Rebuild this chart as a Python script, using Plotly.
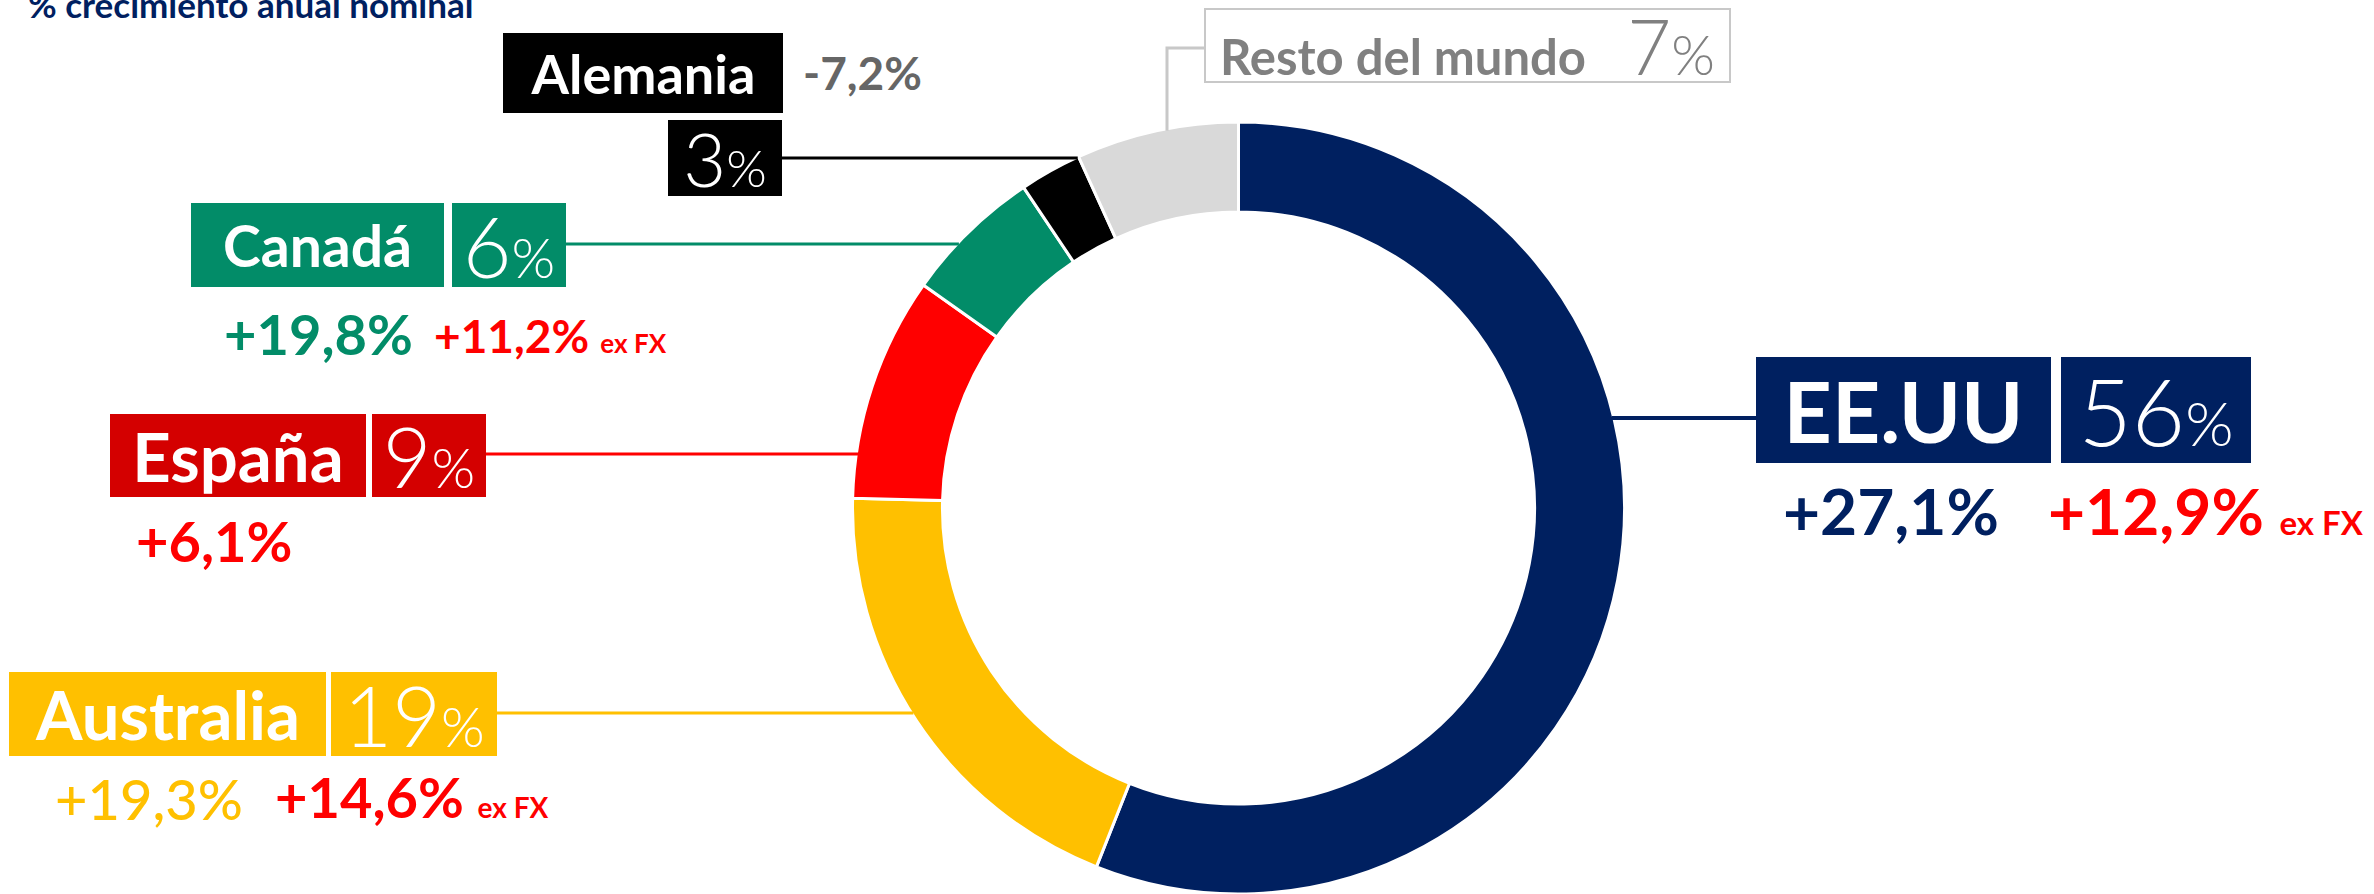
import math
import plotly.graph_objects as go

# ---------------- data ----------------
countries = ["EE.UU", "Australia", "España", "Canadá", "Alemania", "Resto del mundo"]
shares = [56.0, 19.4, 9.4, 5.8, 2.6, 6.8]          # slice sizes read from the ring
share_labels = [56, 19, 9, 6, 3, 7]                 # printed shares (%)
growth = ["+27,1%", "+19,3%", "+6,1%", "+19,8%", "-7,2%", ""]
growth_exfx = ["+12,9%", "+14,6%", "", "+11,2%", "", ""]
title_text = "% crecimiento anual nominal"

# ---------------- styles ----------------
W, H = 2374, 894
FONT = "Lato"
NAVY = "#002060"
YELLOW = "#FFC000"
RED = "#FF0000"
GREEN = "#028C68"
slice_colors = [NAVY, YELLOW, RED, GREEN, "#000000", "#D9D9D9"]
box_colors = [NAVY, YELLOW, "#D40000", GREEN, "#000000", "#FFFFFF"]
growth_colors = [NAVY, YELLOW, RED, GREEN, "#666666", "#808080"]
line_colors = [NAVY, YELLOW, RED, GREEN, "#000000", "#C8C8C8"]

cx, cy, R = 1238.5, 508.0, 386.0   # ring centre / outer radius in px
HOLE = 0.767


def px(x):
    return x / W


def py(y):
    return 1 - y / H


def ring_x(y, side):
    d = R * R - (y - cy) ** 2
    return cx + side * math.sqrt(max(d, 0.0))


fig = go.Figure()
fig.add_trace(go.Pie(
    labels=countries, values=shares, sort=False, direction="clockwise",
    rotation=0, hole=HOLE, textinfo="none", hoverinfo="label+percent",
    marker=dict(colors=slice_colors, line=dict(color="white", width=3)),
    domain=dict(x=[px(cx - R), px(cx + R)], y=[0, 2 * R / H]),
    showlegend=False,
))

annotations = []
shapes = []


def box(x0, y0, x1, y1, text, bg, color, size, weight, bw=0, bc=None):
    annotations.append(dict(
        xref="paper", yref="paper", x=px(x0), y=py(y0),
        xanchor="left", yanchor="top",
        width=x1 - x0 - 2 * bw, height=y1 - y0 - 2 * bw,
        bgcolor=bg, borderpad=0, borderwidth=bw,
        bordercolor=bc if bc else bg,
        showarrow=False, text=text, align="center", valign="middle",
        font=dict(family=FONT, size=size, color=color, weight=weight),
    ))


def txt(x0, baseline, text, size, color, weight=700):
    annotations.append(dict(
        xref="paper", yref="paper", x=px(x0), y=py(baseline - 0.387 * size),
        xanchor="left", yanchor="middle", borderpad=0,
        showarrow=False, text=text, align="left",
        font=dict(family=FONT, size=size, color=color, weight=weight),
    ))


def pct(v, size_pct):
    return f"{v}<span style='font-size:{size_pct}px'>%</span>"


def exfx(v, size):
    return f"{v} <span style='font-size:{size}px'>ex FX</span>"


def hline(y, x0, x1, color, width=3):
    shapes.append(dict(type="line", xref="paper", yref="paper",
                       x0=px(x0), x1=px(x1), y0=py(y), y1=py(y),
                       line=dict(color=color, width=width)))


# Title (partly cut at the top, as in the source)
txt(27, 18, title_text, 35, NAVY, 700)

# EE.UU
i = 0
box(1756, 357, 2051, 463, countries[i], box_colors[i], "white", 84, 700)
box(2061, 357, 2251, 463, pct(share_labels[i], 62), box_colors[i], "white", 92, 300)
hline(418, ring_x(418, 1) - 2, 1756, line_colors[i], 4)
txt(1782, 535, growth[i], 64, growth_colors[i])
txt(2047, 535, exfx(growth_exfx[i], 33), 64, RED)

# Australia
i = 1
box(9, 672, 326, 756, countries[i], box_colors[i], "white", 67, 700)
box(331, 672, 497, 756, pct(share_labels[i], 56), box_colors[i], "white", 84, 300)
hline(713, 497, ring_x(713, -1) + 2, line_colors[i], 3)
txt(54, 820, growth[i], 56, growth_colors[i], 500)
txt(274, 818, exfx(growth_exfx[i], 28), 56, RED)

# España
i = 2
box(110, 414, 366, 497, countries[i], box_colors[i], "white", 67, 700)
box(372, 414, 486, 497, pct(share_labels[i], 56), box_colors[i], "white", 84, 300)
hline(454, 486, ring_x(454, -1) + 2, line_colors[i], 3)
txt(135, 562, growth[i], 56, RED)

# Canadá
i = 3
box(191, 203, 444, 287, countries[i], box_colors[i], "white", 57, 700)
box(452, 203, 566, 287, pct(share_labels[i], 56), box_colors[i], "white", 84, 300)
hline(244, 566, ring_x(244, -1) + 2, line_colors[i], 3)
txt(223, 355, growth[i], 56, growth_colors[i])
txt(433, 353, exfx(growth_exfx[i], 26), 46, RED)

# Alemania
i = 4
box(503, 33, 783, 113, countries[i], box_colors[i], "white", 54, 700)
box(668, 120, 782, 196, pct(share_labels[i], 52), box_colors[i], "white", 74, 300)
hline(158, 782, ring_x(158, -1) + 2, line_colors[i], 3)
txt(802, 90, growth[i], 46, growth_colors[i])

# Resto del mundo
i = 5
resto_text = (f"<span style='font-size:49px;font-weight:700'>{countries[i]}</span>"
              f"  {share_labels[i]}<span style='font-size:56px'>%</span>")
box(1204, 8, 1731, 83, resto_text, "white", "#808080", 76, 300, bw=2, bc="#C8C8C8")
shapes.append(dict(type="path", xref="paper", yref="paper",
                   path=(f"M {px(1204)},{py(48)} L {px(1167)},{py(48)} "
                         f"L {px(1167)},{py(cy - (R * R - (1167 - cx) ** 2) ** 0.5 + 2)}"),
                   line=dict(color=line_colors[i], width=3)))

fig.update_layout(
    width=W, height=H, margin=dict(l=0, r=0, t=0, b=0),
    paper_bgcolor="white", plot_bgcolor="white",
    annotations=annotations, shapes=shapes,
    font=dict(family=FONT),
)

fig.write_html("out.html",
               config={"displayModeBar": False},
               post_script="document.body.style.margin='0';"
                           "document.body.style.overflow='hidden';")
